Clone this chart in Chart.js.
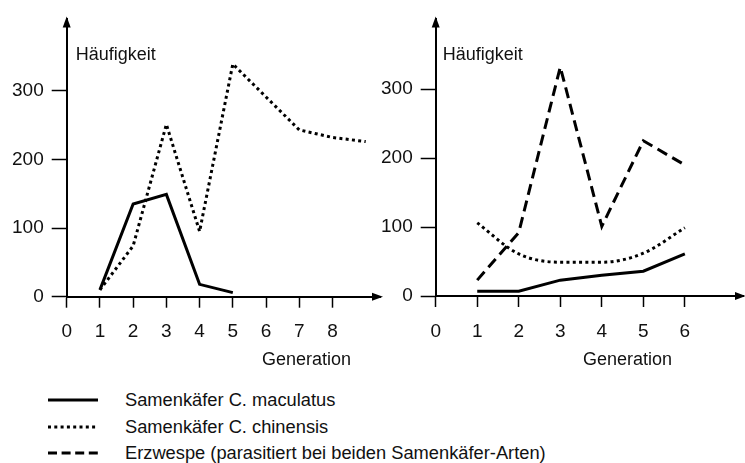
<!DOCTYPE html>
<html>
<head>
<meta charset="utf-8">
<script src="https://cdn.jsdelivr.net/npm/chart.js@4.4.0/dist/chart.umd.min.js"></script>
<style>
  body { margin: 0; background: #fff; font-family: "Liberation Sans", Arial, sans-serif; }
  .wrap { position: relative; width: 745px; height: 463px; overflow: hidden; }
  #leftChart { position: absolute; left: 0; top: 0; }
  #rightChart { position: absolute; left: 375px; top: 0; }
  .legend { position: absolute; left: 48px; top: 387px; font-size: 18.3px; color: #111; }
  .legend .row { height: 26.5px; display: flex; align-items: center; }
  .legend svg { width: 50px; height: 6px; margin-right: 27px; }
</style>
</head>
<body>
<div class="wrap">
  <canvas id="leftChart" width="385" height="380"></canvas>
  <canvas id="rightChart" width="370" height="380"></canvas>
  <div class="legend">
    <div class="row"><svg><line x1="0" y1="3" x2="50" y2="3" stroke="#000" stroke-width="3"/></svg>Samenkäfer C. maculatus</div>
    <div class="row"><svg><line x1="0" y1="3" x2="50" y2="3" stroke="#000" stroke-width="3" stroke-dasharray="3 3.3"/></svg>Samenkäfer C. chinensis</div>
    <div class="row"><svg><line x1="0" y1="3" x2="50" y2="3" stroke="#000" stroke-width="3" stroke-dasharray="9 4.6"/></svg>Erzwespe (parasitiert bei beiden Samenkäfer-Arten)</div>
  </div>
</div>
<script>
// values
const leftGen = [1, 2, 3, 4, 5, 6, 7, 8, 9]
const leftChinensis = [10, 74, 251, 95, 339, 291, 243, 232, 226]
const leftGenMac = [1, 2, 3, 4, 5]
const leftMaculatus = [10, 135, 149, 18, 6]

const rightGen = [1, 2, 3, 4, 5, 6]
const rightMaculatus = [7, 7, 23, 30, 36, 61]
const rightChinensis = [106, 61, 49, 49, 62, 99]
const rightErzwespe = [23, 92, 332, 101, 225, 190]

const yTicks = [0, 100, 200, 300]
const leftXTicks = [0, 1, 2, 3, 4, 5, 6, 7, 8]
const rightXTicks = [0, 1, 2, 3, 4, 5, 6]

const yLabel = 'Häufigkeit'
const xLabel = 'Generation'

const toPoints = (xs, ys) => xs.map((x, i) => ({x: x, y: ys[i]}))

const tickFont = {family: '"Liberation Sans", Arial, sans-serif', size: 19}

// arrows on the axes + the two axis labels
const axisDeco = {
    id: 'axisDeco',
    afterDraw(chart, args, opts) {
        const {ctx, chartArea} = chart
        const {left, right, top, bottom} = chartArea
        ctx.save()
        ctx.fillStyle = '#000'
        ctx.beginPath()
        ctx.moveTo(left, top - 3)
        ctx.lineTo(left - 4, top + 8)
        ctx.lineTo(left + 4, top + 8)
        ctx.closePath()
        ctx.fill()
        ctx.beginPath()
        ctx.moveTo(right + 3, bottom)
        ctx.lineTo(right - 8, bottom - 4)
        ctx.lineTo(right - 8, bottom + 4)
        ctx.closePath()
        ctx.fill()

        ctx.fillStyle = '#111'
        ctx.font = '18px "Liberation Sans", Arial, sans-serif'
        ctx.textBaseline = 'middle'
        ctx.textAlign = 'left'
        ctx.fillText(yLabel, left + opts.yLabelDx, 55)
        ctx.fillText(xLabel, opts.xLabelX, 360)
        ctx.restore()
    }
}

const makeScales = (xTicks, xMax, yMax, yWidth, xHeight) => ({
    x: {
        type: 'linear',
        min: 0,
        max: xMax,
        afterBuildTicks: scale => { scale.ticks = xTicks.map(v => ({value: v})) },
        afterFit: scale => { scale.height = xHeight },
        border: {display: true, color: '#000', width: 2},
        grid: {drawOnChartArea: false, drawTicks: true, tickLength: 11, tickWidth: 1.5, tickColor: '#000'},
        ticks: {color: '#111', font: tickFont, padding: 13, maxRotation: 0, autoSkip: false}
    },
    y: {
        type: 'linear',
        min: 0,
        max: yMax,
        afterBuildTicks: scale => { scale.ticks = yTicks.map(v => ({value: v})) },
        afterFit: scale => { scale.width = yWidth },
        border: {display: true, color: '#000', width: 2},
        grid: {drawOnChartArea: false, drawTicks: true, tickLength: 15, tickWidth: 1.5, tickColor: '#000'},
        ticks: {color: '#111', font: tickFont, padding: 8}
    }
})

const lineStyle = {borderColor: '#000', borderWidth: 3, pointRadius: 0, fill: false, borderCapStyle: 'butt', borderJoinStyle: 'miter'}

const leftChart = new Chart(document.getElementById('leftChart'), {
    type: 'line',
    data: {
        datasets: [
            {...lineStyle, label: 'Samenkäfer C. chinensis', data: toPoints(leftGen, leftChinensis), borderDash: [3, 3.3]},
            {...lineStyle, label: 'Samenkäfer C. maculatus', data: toPoints(leftGenMac, leftMaculatus)}
        ]
    },
    options: {
        responsive: false,
        devicePixelRatio: 1,
        animation: false,
        clip: false,
        layout: {padding: {top: 15, right: 5, left: 0, bottom: 0}},
        scales: makeScales(leftXTicks, 9.43, 404, 66.7, 83.3),
        plugins: {
            legend: {display: false},
            tooltip: {enabled: false},
            axisDeco: {yLabelDx: 9, xLabelX: 262}
        }
    },
    plugins: [axisDeco]
})

const rightChart = new Chart(document.getElementById('rightChart'), {
    type: 'line',
    data: {
        datasets: [
            {...lineStyle, label: 'Erzwespe', data: toPoints(rightGen, rightErzwespe), borderDash: [11, 6]},
            {...lineStyle, label: 'Samenkäfer C. chinensis', data: toPoints(rightGen, rightChinensis), borderDash: [3, 3.3], cubicInterpolationMode: 'monotone'},
            {...lineStyle, label: 'Samenkäfer C. maculatus', data: toPoints(rightGen, rightMaculatus)}
        ]
    },
    options: {
        responsive: false,
        devicePixelRatio: 1,
        animation: false,
        clip: false,
        layout: {padding: {top: 15, right: 2, left: 0, bottom: 0}},
        scales: makeScales(rightXTicks, 7.4, 401, 60.7, 84),
        plugins: {
            legend: {display: false},
            tooltip: {enabled: false},
            axisDeco: {yLabelDx: 7, xLabelX: 208}
        }
    },
    plugins: [axisDeco]
})
</script>
</body>
</html>
